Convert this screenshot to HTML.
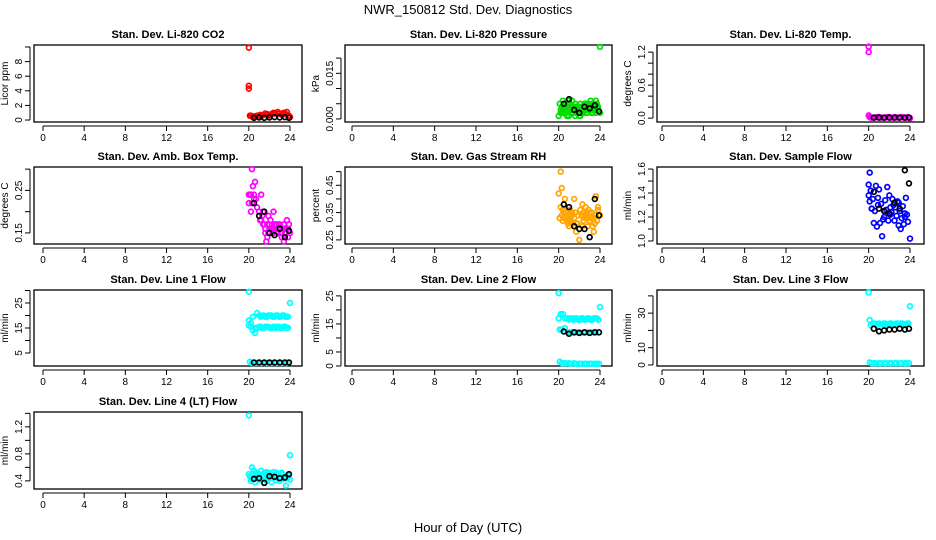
<!DOCTYPE html>
<html><head><meta charset="utf-8"><style>
body{margin:0;background:#fff;}
svg{display:block;font-family:"Liberation Sans",Arial,sans-serif;}
</style></head><body>
<svg id="chart" width="936" height="540" viewBox="0 0 936 540">
<rect width="936" height="540" fill="#fff"/>
<text x="468" y="14" font-size="13" text-anchor="middle">NWR_150812  Std. Dev. Diagnostics</text>
<text x="468" y="532" font-size="13" text-anchor="middle">Hour of Day (UTC)</text>
<g id="panels"></g>
</svg>
<script>
// ---------- data ----------
const xTicks = [0,4,8,12,16,20,24];
const titles = ["Stan. Dev. Li-820 CO2","Stan. Dev. Li-820 Pressure","Stan. Dev. Li-820 Temp.","Stan. Dev. Amb. Box Temp.","Stan. Dev. Gas Stream RH","Stan. Dev. Sample Flow","Stan. Dev. Line 1 Flow","Stan. Dev. Line 2 Flow","Stan. Dev. Line 3 Flow","Stan. Dev. Line 4 (LT) Flow"];
const yLabels = ["Licor ppm","kPa","degrees C","degrees C","percent","ml/min","ml/min","ml/min","ml/min","ml/min"];
const colors = ["#ff0000","#00dd00","#ff00ff","#ff00ff","#ffa500","#0000ff","#00ffff","#00ffff","#00ffff","#00ffff"];
const yDomains = [[-0.27,10.27],[-0.001,0.0243],[-0.07,1.33],[0.124,0.305],[0.235,0.517],[0.975,1.617],[-0.2,30.2],[0,27.1],[-0.6,43.4],[0.28,1.42]];
const yTickVals = [[0,2,4,6,8,10],[0,0.005,0.01,0.015,0.02],[0,0.2,0.4,0.6,0.8,1.0,1.2],[0.15,0.20,0.25,0.30],[0.25,0.30,0.35,0.40,0.45,0.50],[1.0,1.1,1.2,1.3,1.4,1.5,1.6],[5,10,15,20,25,30],[0,5,10,15,20,25],[0,10,20,30,40],[0.4,0.6,0.8,1.0,1.2,1.4]];
const yTickLabels = [["0","2","4","6","8",""],["0.000","","","0.015",""],["0.0","","","0.6","","","1.2"],["0.15","","0.25",""],["0.25","","0.35","","0.45",""],["1.0","","1.2","","1.4","","1.6"],["5","","15","","25",""],["0","5","","15","","25"],["0","10","","30",""],["0.4","","0.8","","1.2",""]];

const hoursB = [20.5,21.0,21.5,22.0,22.5,23.0,23.5,23.9];

const co2Hours = [20,20,20,20.1,20.3,20.6,21.0,21.4,21.8,22.2,22.6,23.0,23.4,23.7,24.0,21.2,22.4,23.2,20.2,20.8,21.6,22.0,22.8,23.6,20.4,21.1,21.9,22.5,23.3,23.9];
const co2Vals = [9.9,4.7,4.3,0.6,0.5,0.5,0.6,0.7,0.8,0.8,0.9,0.9,1.0,1.1,0.4,0.5,1.0,0.7,0.6,0.6,0.9,0.7,1.1,0.8,0.5,0.7,0.6,0.9,0.8,0.6];
const co2Black = [0.3,0.35,0.3,0.35,0.4,0.35,0.4,0.3];

const presHours = [20.0,20.2,20.3,20.5,20.7,20.9,21.0,21.2,21.4,21.6,21.8,22.0,22.2,22.4,22.6,22.8,23.0,23.2,23.4,23.6,23.8,24.0,20.4,20.8,21.3,21.7,22.1,22.5,22.9,23.3,23.7,20.6,21.1,21.9,22.7,23.5,24.0,20.1,20.3,20.5,20.7,20.9,21.1,21.3,21.5,21.7,21.9,22.1,22.3,22.5,22.7,22.9,23.1,23.3,23.5,23.7,20.2,20.6,21.0,21.4,21.8,22.2,22.6,23.0,23.4,23.8,20.4,20.8,21.2,21.6,22.0,22.4,22.8,23.2,23.6];
const presVals = [0.001,0.003,0.004,0.002,0.005,0.003,0.001,0.004,0.002,0.005,0.003,0.001,0.004,0.002,0.005,0.003,0.004,0.002,0.005,0.006,0.003,0.0237,0.006,0.001,0.006,0.002,0.001,0.003,0.005,0.002,0.004,0.004,0.003,0.004,0.005,0.003,0.002,0.005,0.002,0.004,0.003,0.006,0.005,0.003,0.004,0.004,0.002,0.005,0.003,0.005,0.002,0.004,0.006,0.003,0.004,0.005,0.002,0.002,0.005,0.003,0.004,0.002,0.004,0.003,0.003,0.004,0.003,0.004,0.002,0.001,0.004,0.003,0.002,0.005,0.002];
const presBlack = [0.005,0.0065,0.003,0.002,0.004,0.0035,0.0045,0.0025];

const tempHours = [20,20,20,20.1,20.3,20.6,21.0,21.4,21.8,22.2,22.6,23.0,23.4,23.8,24.0,20.2,20.8,21.2,21.6,22.0,22.4,22.8,23.2,23.6];
const tempVals = [1.3,1.2,0.05,0.02,0.01,0.01,0.02,0.01,0.02,0.01,0.02,0.01,0.01,0.02,0.0,0.01,0.02,0.01,0.01,0.02,0.01,0.01,0.02,0.01];
const tempBlack = [0.01,0.01,0.01,0.01,0.01,0.01,0.01,0.01];

const ambHours = [20.0,20.1,20.2,20.3,20.4,20.5,20.6,20.8,21.0,21.1,21.2,21.3,21.5,21.6,21.7,21.8,22.0,22.1,22.3,22.5,22.6,22.8,23.0,23.2,23.3,23.5,23.7,23.9,24.0,20.2,20.7,21.4,21.9,22.4,22.9,23.4,23.8,20.0,20.3,20.5,21.2,21.4,21.6,21.8,22.0,22.2,22.4,22.6,22.8,23.0,23.2,23.4,23.6,23.8,21.9,22.3,22.7,23.1,23.5];
const ambVals = [0.22,0.24,0.20,0.30,0.26,0.24,0.27,0.21,0.20,0.18,0.24,0.19,0.17,0.16,0.13,0.17,0.16,0.18,0.15,0.17,0.16,0.15,0.17,0.14,0.16,0.15,0.18,0.17,0.15,0.24,0.23,0.20,0.19,0.20,0.17,0.13,0.16,0.24,0.22,0.23,0.18,0.17,0.15,0.14,0.17,0.16,0.15,0.17,0.16,0.16,0.15,0.17,0.16,0.14,0.15,0.16,0.17,0.15,0.16];
const ambBlack = [0.22,0.19,0.20,0.15,0.145,0.16,0.14,0.155];

const rhHours = [20.0,20.1,20.2,20.3,20.4,20.5,20.6,20.8,21.0,21.1,21.2,21.4,21.5,21.7,21.9,22.0,22.1,22.3,22.5,22.6,22.8,23.0,23.2,23.4,23.6,23.8,24.0,20.2,20.7,21.3,21.8,22.4,22.9,23.3,23.7,20.1,20.3,20.5,20.7,20.9,21.1,21.3,21.5,21.7,22.2,22.4,22.6,22.8,23.0,23.2,23.4,23.6,23.8,20.4,20.9,21.2,21.6,22.3,22.7,23.1,23.5];
const rhVals = [0.42,0.33,0.50,0.44,0.36,0.33,0.40,0.34,0.30,0.36,0.32,0.31,0.40,0.28,0.34,0.25,0.36,0.38,0.33,0.37,0.30,0.35,0.33,0.28,0.41,0.37,0.34,0.37,0.35,0.34,0.31,0.32,0.36,0.30,0.32,0.33,0.34,0.35,0.33,0.32,0.33,0.35,0.33,0.31,0.34,0.35,0.34,0.33,0.32,0.35,0.33,0.34,0.36,0.32,0.31,0.34,0.35,0.30,0.35,0.33,0.31];
const rhBlack = [0.38,0.37,0.30,0.29,0.29,0.26,0.40,0.34];

const sfHours = [20.0,20.0,20.1,20.1,20.2,20.3,20.4,20.5,20.6,20.7,20.8,20.9,21.0,21.1,21.2,21.3,21.4,21.5,21.6,21.7,21.8,21.9,22.0,22.1,22.2,22.3,22.4,22.5,22.6,22.7,22.8,22.9,23.0,23.1,23.2,23.3,23.4,23.5,23.6,23.7,23.8,24.0,20.3,20.9,21.5,22.1,22.9,23.5];
const sfVals = [1.47,1.38,1.57,1.33,1.42,1.27,1.35,1.15,1.25,1.46,1.12,1.36,1.43,1.15,1.31,1.04,1.18,1.20,1.34,1.26,1.45,1.17,1.38,1.22,1.24,1.35,1.30,1.17,1.28,1.21,1.33,1.13,1.25,1.10,1.19,1.29,1.14,1.23,1.36,1.22,1.16,1.02,1.27,1.30,1.25,1.28,1.32,1.20];
const sfBlack = [1.41,1.27,1.25,1.23,1.32,1.27,1.59,1.48];

const l1Hours = [20,20,20,20.2,20.4,20.6,20.8,21.0,21.3,21.6,21.9,22.2,22.5,22.8,23.1,23.4,23.7,20.2,20.4,20.6,20.8,21.0,21.3,21.6,21.9,22.2,22.5,22.8,23.1,23.4,23.7,20.1,20.5,21.0,21.5,22.0,22.5,23.0,23.5,24.0,21.15,21.45,21.75,22.05,22.35,22.65,22.95,23.25,23.55,23.8,21.15,21.45,21.75,22.05,22.35,22.65,22.95,23.25,23.55,23.8,20.3,20.7,21.2,21.7,22.2,22.7,23.2,23.7];
const l1Vals = [29.5,18,16,17,19.5,15,21,20,20,19.5,20,20,19.5,20,19.5,20,19.5,15.5,14,13,15,15.5,15,15.5,15.5,15,15.5,15.5,15,15.5,15,1.5,1,1,1,1,1,1,1,25,19.5,20,19.5,20,19.5,20,19.5,20,19.5,19.5,15.5,15,15.5,15,15.5,15,15.5,15,15.5,15,1,1,1,1,1,1,1,1];
const l1Black = [1.2,1.2,1.2,1.2,1.2,1.2,1.2,1.2];

const l2Hours = [20,20,20.2,20.4,20.6,20.8,21.0,21.3,21.6,21.9,22.2,22.5,22.8,23.1,23.4,23.7,20.1,20.3,20.6,20.9,21.2,21.6,22.0,22.4,22.8,23.2,23.6,20.1,20.5,21.0,21.5,22.0,22.5,23.0,23.5,23.9,24.0,21.15,21.45,21.75,22.05,22.35,22.65,22.95,23.25,23.55,23.85,20.3,20.7,21.2,21.7,22.2,22.7,23.2,23.7,21.4,21.8,22.6,23.4];
const l2Vals = [26,17,18.5,18.5,17,17,16.5,17,17,16.5,17,16.5,17,16.5,17,17,13,13,13.5,12,12,12,12,12,12,12,12,1.5,1,1,1,0.8,0.8,0.8,0.8,0.8,21,17,16.5,17,16.5,17,16.5,17,16.5,17,16.5,1,1,0.8,0.8,0.8,0.8,0.8,0.8,12,12,12,12];
const l2Black = [12.3,11.5,12,11.8,12,11.8,12,12];

const l3Hours = [20,20.1,20.2,20.4,20.6,20.8,21.0,21.3,21.6,21.9,22.2,22.5,22.8,23.1,23.4,23.7,20.1,20.5,21.0,21.5,22.0,22.5,23.0,23.5,23.9,24.0,21.15,21.45,21.75,22.05,22.35,22.65,22.95,23.25,23.55,23.85,20.3,20.7,21.2,21.7,22.2,22.7,23.2,23.7];
const l3Vals = [42,26,23,24,24,23,24,23.5,24,23.5,24,23.5,24,24,23.5,24,1.5,1,1,1,1,1,1,1,1,34,23.5,24,23.5,24,23.5,24,23.5,24,23.5,24,1,1,1,1,1,1,1,1];
const l3Black = [21,19.5,20,20.5,20.5,21,20.5,21];

const l4Hours = [20,20,20.2,20.3,20.4,20.6,20.8,21.0,21.2,21.4,21.6,21.8,22.0,22.2,22.4,22.6,22.8,23.0,23.2,23.4,23.6,23.8,24.0,20.5,21.1,21.7,22.3,22.9,23.5,24.0,20.1,20.3,20.7,20.9,21.3,21.5,21.9,22.1,22.5,22.7,23.1,23.3,23.7,20.2,20.6,21.0,21.4,21.8,22.2,22.6,23.0,23.4,23.8];
const l4Vals = [1.37,0.5,0.45,0.6,0.5,0.38,0.48,0.5,0.55,0.46,0.42,0.5,0.52,0.38,0.53,0.45,0.5,0.4,0.52,0.46,0.33,0.48,0.78,0.55,0.42,0.53,0.47,0.5,0.44,0.42,0.47,0.43,0.52,0.45,0.48,0.52,0.44,0.5,0.47,0.52,0.45,0.5,0.44,0.4,0.44,0.42,0.49,0.4,0.46,0.41,0.47,0.43,0.45];
const l4Black = [0.43,0.44,0.37,0.47,0.46,0.44,0.45,0.5];

const seriesHours = [co2Hours,presHours,tempHours,ambHours,rhHours,sfHours,l1Hours,l2Hours,l3Hours,l4Hours];
const seriesVals = [co2Vals,presVals,tempVals,ambVals,rhVals,sfVals,l1Vals,l2Vals,l3Vals,l4Vals];
const blackVals = [co2Black,presBlack,tempBlack,ambBlack,rhBlack,sfBlack,l1Black,l2Black,l3Black,l4Black];

// ---------- layout ----------
const colX = [[34,302,43,290],[345,612,352,600],[657,924,662,910]];
const rowY = [[45,122],[167,244],[290,366],[412,489]];
const NS = "http://www.w3.org/2000/svg";
const root = document.getElementById('panels');
function mk(tag, attrs, parent){const e=document.createElementNS(NS,tag);for(const k in attrs)e.setAttribute(k,attrs[k]);parent.appendChild(e);return e;}

for(let i=0;i<10;i++){
  const c=colX[i%3], r=rowY[Math.floor(i/3)];
  const [L,R,x0,x24]=c, [T,B]=r;
  const xs=h=>x0+(x24-x0)*h/24;
  const [lo,hi]=yDomains[i];
  const ys=v=>B-(v-lo)/(hi-lo)*(B-T);
  const g=mk('g',{},root);
  
  
  const t=mk('text',{x:(L+R)/2,y:T-7,'font-size':11,'font-weight':'bold','text-anchor':'middle'},g);
  t.textContent=titles[i];
  
  
  const box=mk('rect',{x:L,y:T,width:R-L,height:B-T,fill:'none',stroke:'#000','stroke-width':1.3},g);
  
  
  const xa=mk('g',{},g);
  
  
  mk('line',{x1:xs(0),x2:xs(24),y1:B+4,y2:B+4,stroke:'#000'},xa);
  xTicks.forEach(h=>{
    mk('line',{x1:xs(h),x2:xs(h),y1:B+4,y2:B+9,stroke:'#000'},xa);
    const tl=mk('text',{x:xs(h),y:B+19,'font-size':10,'text-anchor':'middle'},xa);
    tl.textContent=h;
    
    
  });
  const ya=mk('g',{},g);
  
  
  const tv=yTickVals[i];
  mk('line',{x1:L-4,x2:L-4,y1:ys(tv[0]),y2:ys(tv[tv.length-1]),stroke:'#000'},ya);
  tv.forEach((v,k)=>{
    const y=ys(v);
    mk('line',{x1:L-9,x2:L-4,y1:y,y2:y,stroke:'#000'},ya);
    const lab=yTickLabels[i][k];
    if(lab){
      const tl=mk('text',{x:0,y:0,'font-size':10,'text-anchor':'middle',transform:`translate(${L-12},${y}) rotate(-90)`},ya);
      tl.textContent=lab;
      
      
    }
  });
  const yl=mk('text',{x:0,y:0,'font-size':10,'text-anchor':'middle',transform:`translate(${L-26},${(T+B)/2}) rotate(-90)`},g);
  yl.textContent=yLabels[i];
  
  
  const sg=mk('g',{},g);
  
  
  seriesHours[i].forEach((h,k)=>{
    const p=mk('circle',{cx:xs(h),cy:ys(seriesVals[i][k]),r:2.4,fill:'none',stroke:colors[i],'stroke-width':1.7},sg);
    
    
  });
  const bg=mk('g',{},g);
  
  
  hoursB.forEach((h,k)=>{
    const p=mk('circle',{cx:xs(h),cy:ys(blackVals[i][k]),r:2.4,fill:'none',stroke:'#000','stroke-width':1.7},bg);
    
    
  });
}
</script>
</body></html>
